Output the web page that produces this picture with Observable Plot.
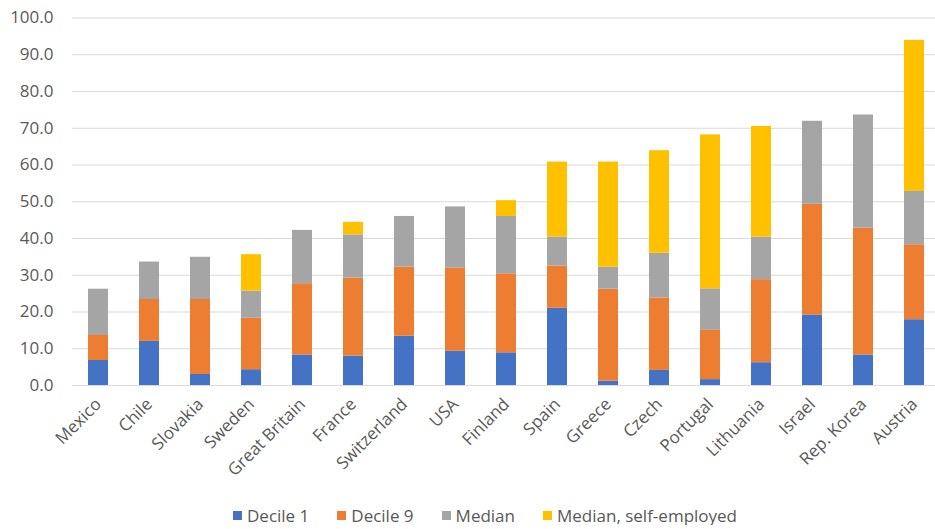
<!DOCTYPE html>
<html>
<head>
<meta charset="utf-8">
<script src="https://cdn.jsdelivr.net/npm/d3@7"></script>
<script src="https://cdn.jsdelivr.net/npm/@observablehq/plot@0.6"></script>
<style>
  html, body { margin: 0; padding: 0; background: #ffffff; }
  #chart svg { display: block; overflow: visible; }
  .legend { display: flex; align-items: center; height: 20px; margin-top: 35px; padding-left: 233px;
            font-family: "Open Sans", sans-serif; font-size: 17px; color: #595959; }
  .legend .item { display: flex; align-items: center; margin-right: 28px; }
  .legend .sw { width: 9px; height: 9px; margin-right: 5px; }
</style>
</head>
<body>
<div id="chart"></div>
<script>
const countries = ["Mexico","Chile","Slovakia","Sweden","Great Britain","France","Switzerland","USA","Finland","Spain","Greece","Czech","Portugal","Lithuania","Israel","Rep. Korea","Austria"];
const decile1 = [6.8, 12.0, 3.0, 4.3, 8.3, 8.0, 13.4, 9.3, 8.9, 21.0, 1.2, 4.1, 1.6, 6.2, 19.2, 8.3, 17.9];
const decile9 = [6.8, 11.4, 20.4, 14.0, 19.4, 21.2, 18.8, 22.6, 21.5, 11.5, 25.0, 19.7, 13.4, 22.6, 30.1, 34.5, 20.4];
const median = [12.6, 10.2, 11.5, 7.4, 14.5, 11.8, 13.8, 16.7, 15.6, 7.9, 6.0, 12.2, 11.3, 11.6, 22.6, 30.8, 14.5];
const medianSelf = [0, 0, 0, 9.9, 0, 3.4, 0, 0, 4.3, 20.4, 28.6, 27.9, 41.9, 30.1, 0, 0, 41.1];
const seriesNames = ["Decile 1", "Decile 9", "Median", "Median, self-employed"];
const seriesColors = ["#4472C4", "#ED7D31", "#A5A5A5", "#FFC000"];
const yTicks = [0, 10, 20, 30, 40, 50, 60, 70, 80, 90, 100];

const seriesValues = [decile1, decile9, median, medianSelf];
const data = [];
seriesValues.forEach((vals, s) => {
  vals.forEach((v, i) => data.push({country: countries[i], series: seriesNames[s], value: v}));
});

const chart = Plot.plot({
  width: 935,
  height: 470,
  marginTop: 17.5,
  marginBottom: 85,
  marginLeft: 72,
  marginRight: 0,
  style: {fontFamily: "'Open Sans', sans-serif", fontSize: "17px", color: "#595959", background: "#ffffff", overflow: "visible"},
  x: {domain: countries, range: [71.75, 940.45], paddingInner: 0.61, paddingOuter: 0.305,
      label: null, tickSize: 0, tickRotate: -45, tickPadding: 16},
  y: {domain: [0, 100], ticks: yTicks, tickFormat: d => d.toFixed(1), label: null, tickSize: 0, tickPadding: 19},
  color: {domain: seriesNames, range: seriesColors},
  marks: [
    Plot.ruleY(yTicks, {stroke: "#d9d9d9", strokeWidth: 1.2}),
    Plot.barY(data, {x: "country", y: "value", fill: "series", order: seriesNames})
  ]
});
document.getElementById("chart").appendChild(chart);

const legend = document.createElement("div");
legend.className = "legend";
seriesNames.forEach((name, i) => {
  const item = document.createElement("div");
  item.className = "item";
  const sw = document.createElement("div");
  sw.className = "sw";
  sw.style.background = seriesColors[i];
  const label = document.createElement("span");
  label.textContent = name;
  item.appendChild(sw);
  item.appendChild(label);
  legend.appendChild(item);
});
document.body.appendChild(legend);
</script>
</body>
</html>
